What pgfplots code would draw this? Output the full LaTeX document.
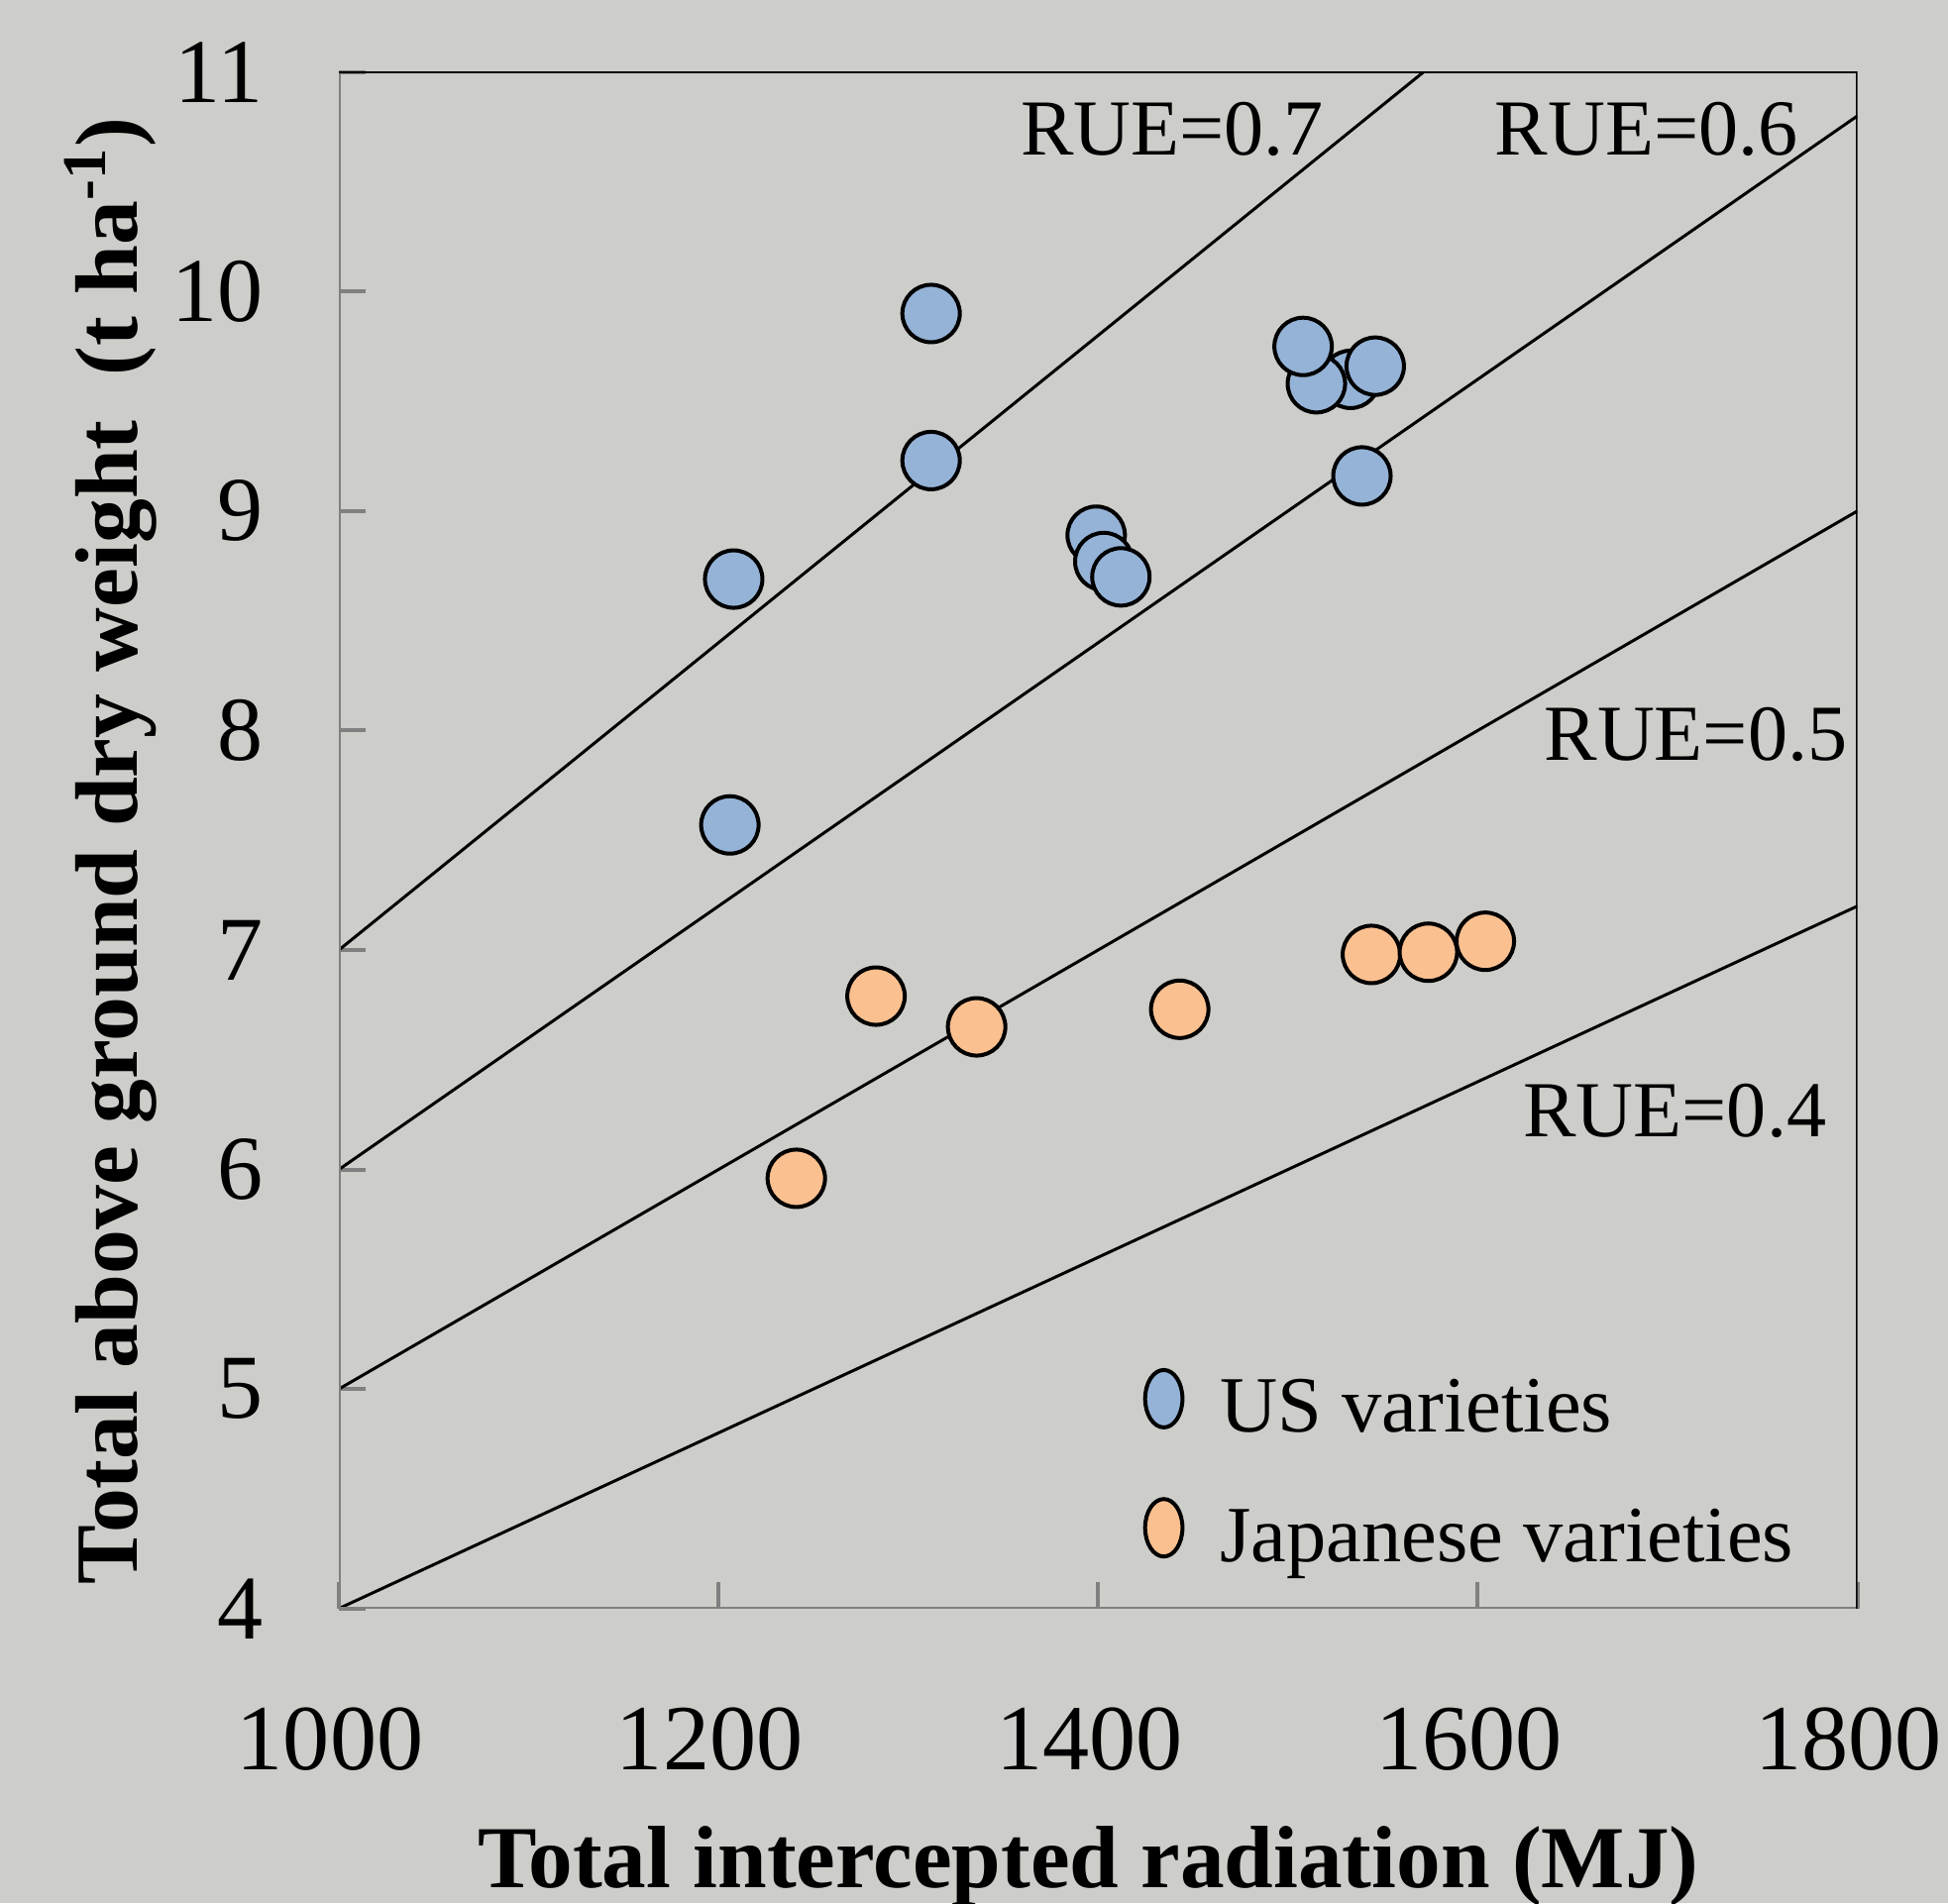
\documentclass[border=0pt]{standalone}
\usepackage{fontspec}
\setmainfont{Liberation Serif}
\usepackage{pgfplots}
\pgfplotsset{compat=1.18}
\definecolor{bg}{HTML}{CDCECA}
\definecolor{usblue}{HTML}{95B3D7}
\definecolor{jporange}{HTML}{FAC090}
\definecolor{axgray}{HTML}{808080}
\begin{document}
\begin{tikzpicture}
\fill[bg] (0mm,0mm) rectangle (196.6mm,192.1mm);
\begin{axis}[
  at={(34.2mm,29.73mm)}, anchor=south west,
  scale only axis, width=153.25mm, height=155.1mm,
  xmin=1000, xmax=1800, ymin=4, ymax=11,
  axis line style={draw=none},
  xtick={1000,1200,1400,1600,1800},
  ytick={4,5,6,7,8,9,10,11},
  xtick pos=left, ytick pos=left,
  tick align=inside,
  major tick length=2.7mm,
  every tick/.style={axgray, line width=0.4mm},
  /pgf/number format/assume math mode=true,
  /pgf/number format/1000 sep={},
  xticklabel style={font=\fontsize{26.8}{30}\selectfont, anchor=base, yshift=-16.3mm, xshift=-0.9mm, inner sep=0pt},
  yticklabel style={font=\fontsize{26.2}{30}\selectfont, anchor=east, xshift=-7.6mm, inner sep=0pt},
  xlabel={\textbf{Total intercepted radiation (MJ)}},
  ylabel={\textbf{Total above ground dry weight\ \ (t ha\textsuperscript{-1})}},
  xlabel style={font=\fontsize{25.4}{30}\selectfont, at={(axis description cs:0.5,0)}, anchor=base, yshift=-28.2mm, xshift=-1mm},
  ylabel style={font=\fontsize{25.5}{30}\selectfont, at={(axis description cs:-0.133,0.493)}, anchor=base},
  legend style={at={(axis cs:1424.4,5.09)}, anchor=north west, draw=none, fill=none,
    font=\fontsize{22.9}{26}\selectfont, row sep=5.5mm, inner sep=0pt,
    /tikz/every odd column/.append style={column sep=3.1mm}},
  legend image code/.code={\draw[#1, yshift=1mm, /tikz/every mark/.append style={xscale=0.65}] plot coordinates {(0cm,0cm)};},
  legend cell align=left,
]
\addplot[only marks, mark=*, mark size=2.9mm, mark options={fill=usblue, draw=black, line width=0.4mm}]
 coordinates {
 (1208,8.69) (1206,7.57) (1312,9.90) (1312,9.23)
 (1399,8.89) (1403,8.77) (1412,8.70)
 (1533,9.60) (1515,9.58) (1508,9.75) (1546,9.66) (1539,9.16)
 };
\addlegendentry{US varieties}
\addplot[only marks, mark=*, mark size=2.9mm, mark options={fill=jporange, draw=black, line width=0.4mm}]
 coordinates {
 (1283,6.79) (1336,6.65) (1241,5.96) (1443,6.73) (1544,6.98) (1574,6.99) (1604,7.04)
 };
\addlegendentry{Japanese varieties}
% RUE lines
\addplot[black, line width=0.3mm, forget plot] coordinates {(1000,7) (1571.43,11)};
\addplot[black, line width=0.3mm, forget plot] coordinates {(1000,6) (1800,10.8)};
\addplot[black, line width=0.3mm, forget plot] coordinates {(1000,5) (1800,9)};
\addplot[black, line width=0.3mm, forget plot] coordinates {(1000,4) (1800,7.2)};
% frame
\draw[axgray, line width=0.4mm] (rel axis cs:0,1) -- (rel axis cs:0,0) -- (rel axis cs:1,0);
\draw[black, line width=0.35mm] (rel axis cs:0,1) -- (rel axis cs:1,1) -- (rel axis cs:1,0);
% labels
\node[font=\fontsize{22.8}{26}\selectfont, anchor=base west, inner sep=0pt] at (axis cs:1359,10.62) {RUE=0.7};
\node[font=\fontsize{22.8}{26}\selectfont, anchor=base east, inner sep=0pt] at (axis cs:1769,10.62) {RUE=0.6};
\node[font=\fontsize{22.8}{26}\selectfont, anchor=base east, inner sep=0pt] at (axis cs:1795,7.865) {RUE=0.5};
\node[font=\fontsize{22.8}{26}\selectfont, anchor=base east, inner sep=0pt] at (axis cs:1784,6.15) {RUE=0.4};
\end{axis}
\pgfresetboundingbox
\useasboundingbox (0mm,0mm) rectangle (196.6mm,192.1mm);
\end{tikzpicture}
\end{document}
